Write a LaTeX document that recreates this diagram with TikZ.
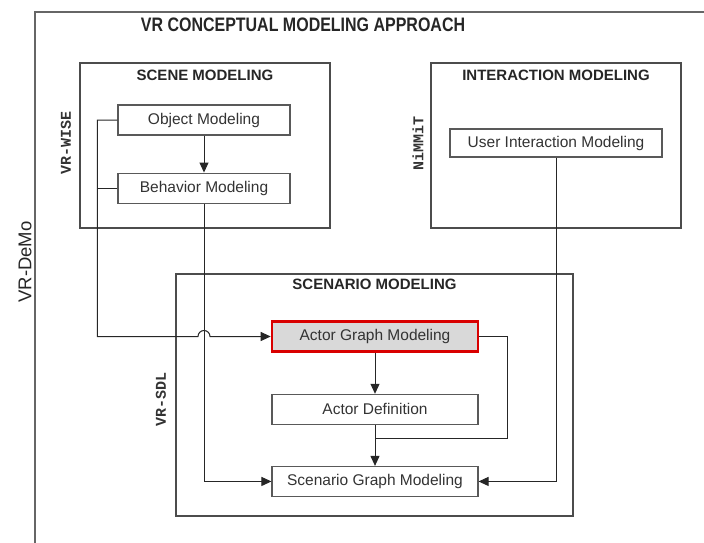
\documentclass[tikz,border=0pt]{standalone}
\usepackage{fontspec}
\setmainfont{Liberation Sans}
\newfontfamily\labelfont{Liberation Mono}
\newfontfamily\titlefont[FakeStretch=0.82]{Liberation Sans}
\usetikzlibrary{calc, positioning, arrows.meta}

\begin{document}
\begin{tikzpicture}[
    x=1pt, y=-1pt,
    box/.style={draw=black!65, line width=1.1pt, rectangle, minimum width=172pt, minimum height=30pt, inner sep=0pt, font=\fontsize{15.5}{18}\selectfont, text=black!80},
    wide/.style={box, minimum width=206pt},
    highlight/.style={wide, draw=red!85!black, line width=2.6pt, fill=black!15},
    area/.style={draw=black!70, line width=1.3pt, rectangle, inner sep=0pt},
    areatitle/.style={font=\fontsize{15}{18}\selectfont\bfseries, text=black!85},
    sidelabel/.style={rotate=90, font=\labelfont\fontsize{15}{18}\selectfont\bfseries, text=black!80},
    line/.style={draw=black!85, line width=1pt},
    arrow/.style={line, -{Triangle[length=10pt,width=9pt]}}
]
\useasboundingbox (0,0) rectangle (704,543);
\draw[draw=black!60, line width=1.6pt] (35,543) -- (35,12) -- (704,12);
\node[font=\titlefont\fontsize{19.5}{22}\selectfont\bfseries, text=black!85] (title) at (303,25) {VR CONCEPTUAL MODELING APPROACH};
\node[rotate=90, font=\fontsize{18.5}{22}\selectfont, text=black!85] (demo) at (25,262) {VR-DeMo};

\node[area, minimum width=250pt, minimum height=165pt] (scene) at (205,145.5) {};
\node[area, minimum width=250pt, minimum height=165pt] (inter) at (556,145.5) {};
\node[area, minimum width=397pt, minimum height=242pt] (scenario) at (374.5,395) {};
\node[areatitle, below=4pt of scene.north] (scenetitle) {SCENE MODELING};
\node[areatitle, below=4pt of inter.north] (intertitle) {INTERACTION MODELING};
\node[areatitle, below=2pt of scenario.north] (scenariotitle) {SCENARIO MODELING};
\node[sidelabel] (wise) at (66,143) {VR-WISE};
\node[sidelabel] (nimmit) at (418,143) {NiMMiT};
\node[sidelabel] (sdl) at (161,399) {VR-SDL};

\node[box] (obj) at (204,120) {Object Modeling};
\node[box, below=37pt of obj] (beh) {Behavior Modeling};
\node[box, minimum width=212pt, minimum height=28pt] (uim) at (556,143) {User Interaction Modeling};
\node[highlight] (agm) at (375,336.5) {Actor Graph Modeling};
\node[wide, below=41pt of agm] (ad) {Actor Definition};
\node[wide, below=41pt of ad] (sgm) {Scenario Graph Modeling};

\coordinate (hop) at (beh.south |- agm.west);
\coordinate (join) at ($(ad.south)+(0,14)$);

\draw[arrow] (obj) -- (beh);
\draw[arrow] (obj.west) -- ++(-20,0) |- ([xshift=-6pt]hop) arc[start angle=180, end angle=0, radius=6pt] -- (agm);
\draw[line] (beh.west) -- ++(-20,0);
\draw[arrow] (beh.south) |- (sgm.west);
\draw[arrow] (uim.south) |- (sgm.east);
\draw[arrow] (agm) -- (ad);
\draw[arrow] (ad) -- (sgm);
\draw[line] (agm.east) -- ++(28,0) |- (join);
\end{tikzpicture}
\end{document}
